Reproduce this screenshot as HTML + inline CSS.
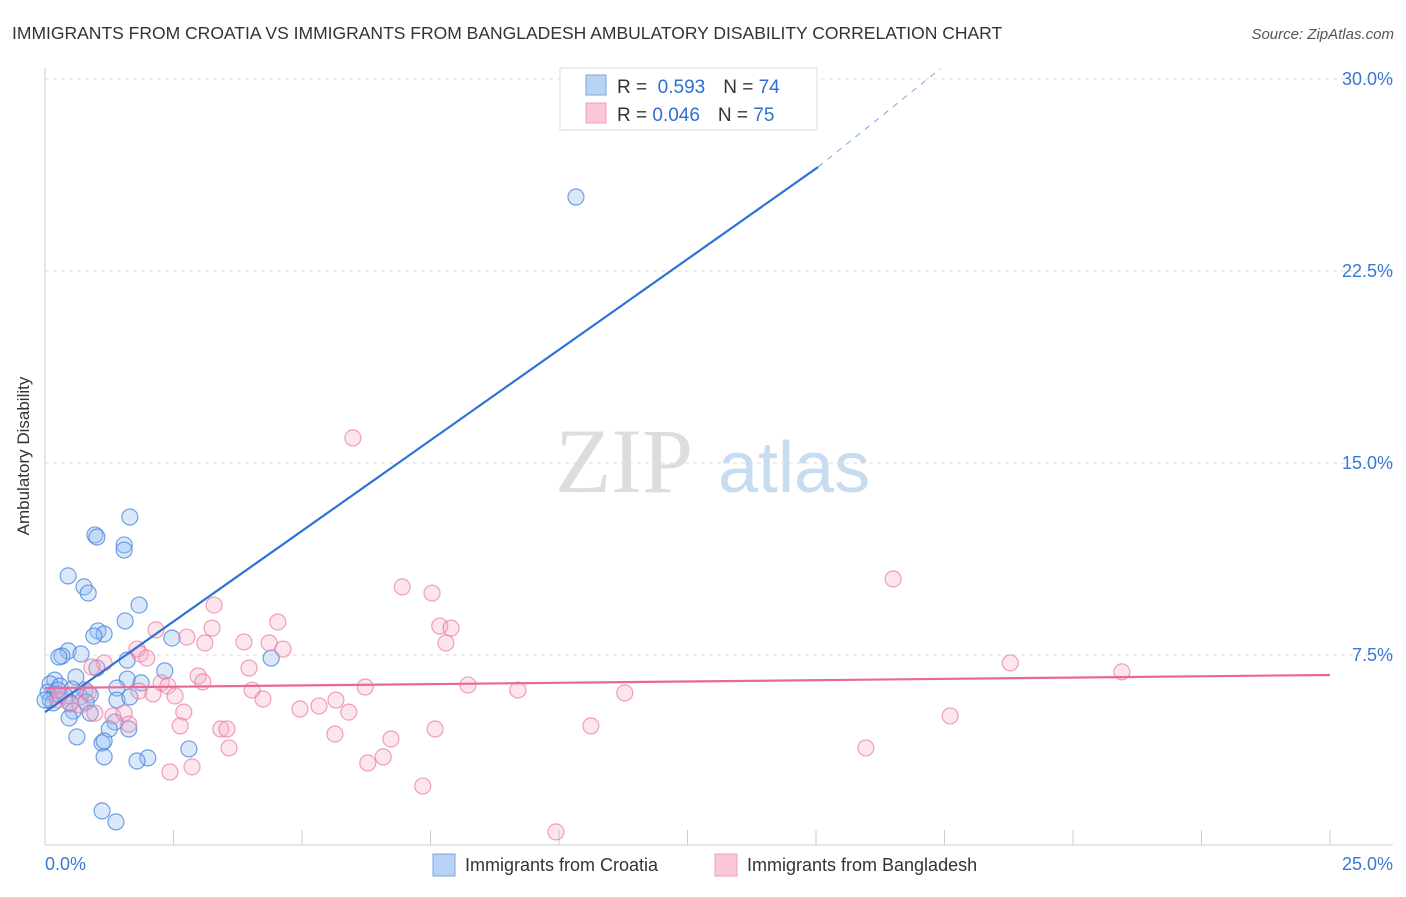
<!DOCTYPE html>
<html><head><meta charset="utf-8"><style>
body{margin:0;background:#fff;font-family:"Liberation Sans",sans-serif}
</style></head><body>
<svg width="1406" height="892" xmlns="http://www.w3.org/2000/svg">
<text x="12" y="39" font-size="17.5" fill="#333">IMMIGRANTS FROM CROATIA VS IMMIGRANTS FROM BANGLADESH AMBULATORY DISABILITY CORRELATION CHART</text>
<text x="1394" y="39" font-size="15" fill="#555" font-style="italic" text-anchor="end">Source: ZipAtlas.com</text>
<text x="29" y="456" font-size="17" fill="#333" text-anchor="middle" transform="rotate(-90 29 456)">Ambulatory Disability</text>
<g><text x="555" y="492" font-size="92" fill="#ddd" font-family="Liberation Serif,serif">ZIP</text><text x="718" y="492" font-size="72" fill="#c8dcf0">atlas</text></g>
<g id="grid"></g><g id="axes"></g><g id="marks"></g>
<g>
<rect x="560" y="68" width="257" height="62" fill="#fff" stroke="#ddd"/>
<rect x="586" y="75" width="20" height="20" fill="#b8d2f5" stroke="#7aa6e0"/>
<text x="617" y="93" font-size="19" fill="#333">R = <tspan fill="#2e6fd0">&#160;0.593</tspan><tspan dx="18">N = </tspan><tspan fill="#2e6fd0">74</tspan></text>
<rect x="586" y="103" width="20" height="20" fill="#f9c7d6" stroke="#eea0b8"/>
<text x="617" y="121" font-size="19" fill="#333">R = <tspan fill="#2e6fd0">0.046</tspan><tspan dx="18">N = </tspan><tspan fill="#2e6fd0">75</tspan></text>
</g>
<g>
<rect x="433" y="854" width="22" height="22" fill="#b8d2f5" stroke="#7aa6e0"/>
<text x="465" y="871" font-size="18" fill="#333">Immigrants from Croatia</text>
<rect x="715" y="854" width="22" height="22" fill="#f9c7d6" stroke="#eea0b8"/>
<text x="747" y="871" font-size="18" fill="#333">Immigrants from Bangladesh</text>
</g>
</svg>
<script>
const yTicks=[7.5,15,22.5,30];
const yTickLabels=["7.5%","15.0%","22.5%","30.0%"];
const xTicks=[0,2.5,5,7.5,10,12.5,15,17.5,20,22.5,25];
const blueX=[10.33,1.65,0.97,1.01,1.54,1.54,0.45,0.76,0.84,1.83,1.56,1.03,1.15,0.95,2.47,0.45,0.33,0.27,0.70,1.60,4.40,2.33,1.01,0.60,0.19,1.60,1.87,0.10,0.29,0.53,0.78,1.40,0.06,0.19,0.39,0.68,0.88,0.10,0.16,0.49,0.80,1.40,1.65,0.55,0.88,0.47,1.36,1.25,1.63,0.62,1.11,1.15,2.80,1.15,2.00,1.79,1.11,1.38,0,0.25];
const blueY=[25.39,12.89,12.19,12.11,11.80,11.60,10.59,10.16,9.92,9.45,8.83,8.44,8.32,8.24,8.16,7.66,7.46,7.42,7.54,7.30,7.38,6.88,6.99,6.64,6.52,6.56,6.41,6.37,6.29,6.17,6.13,6.21,6.05,5.98,5.90,5.86,5.94,5.74,5.63,5.63,5.66,5.74,5.86,5.31,5.23,5.04,4.88,4.61,4.61,4.30,4.06,4.14,3.83,3.52,3.48,3.36,1.41,0.98,5.74,6.13];
const pinkX=[5.99,16.50,6.95,7.53,3.29,4.53,7.68,7.90,2.16,3.25,2.76,3.11,3.87,4.36,4.63,7.80,1.79,1.85,1.98,18.78,20.95,1.15,0.91,3.97,2.98,3.07,2.26,2.39,8.23,6.23,9.20,11.28,4.03,1.83,2.10,2.53,0.84,4.24,5.66,5.33,4.96,5.91,2.70,0.25,0.49,0.97,1.32,1.54,1.63,2.63,17.61,10.62,7.59,3.42,3.54,5.64,6.73,3.58,15.97,6.58,6.28,2.86,2.43,7.35,9.94,0.68,0.29];
const pinkY=[15.98,10.47,10.16,9.92,9.45,8.79,8.63,8.55,8.48,8.55,8.20,7.97,8.01,7.97,7.73,7.97,7.73,7.54,7.38,7.19,6.84,7.19,7.03,6.99,6.68,6.45,6.41,6.29,6.33,6.25,6.13,6.02,6.13,6.09,5.98,5.90,6.02,5.78,5.74,5.51,5.39,5.27,5.27,5.74,5.59,5.23,5.12,5.23,4.80,4.73,5.12,4.73,4.61,4.61,4.61,4.41,4.22,3.87,3.87,3.52,3.28,3.13,2.93,2.38,0.59,5.55,5.94];
const blueLine=[[0,5.27],[15.04,26.56]];
const blueDash=[[15.04,26.56],[17.42,30.4]];
const pinkLine=[[0,6.21],[25,6.72]];
const NS="http://www.w3.org/2000/svg";
const sx=v=>45+v*1285/25, sy=v=>847-v*25.6;
function mk(t,a,p){const e=document.createElementNS(NS,t);for(const k in a)e.setAttribute(k,a[k]);p.appendChild(e);return e;}
const grid=document.getElementById('grid'),axes=document.getElementById('axes'),marks=document.getElementById('marks');
yTicks.forEach((v,i)=>{
 const l=mk('line',{x1:45,x2:1393,y1:sy(v),y2:sy(v),stroke:'#ddd','stroke-dasharray':'4,4'},grid);
 
 
 const t=mk('text',{x:1393,y:sy(v)+6,'font-size':18,fill:'#3a78d4','text-anchor':'end'},axes);
 t.textContent=yTickLabels[i];
 
 
});
const g0=mk('line',{x1:45,x2:1393,y1:79,y2:79,stroke:'#ddd','stroke-dasharray':'4,4'},grid);


const ya=mk('line',{x1:45,x2:45,y1:68,y2:845,stroke:'#ccc'},axes);


const xa=mk('line',{x1:45,x2:1393,y1:845,y2:845,stroke:'#ccc'},axes);


xTicks.forEach(v=>{const t=mk('line',{x1:sx(v),x2:sx(v),y1:845,y2:830,stroke:'#ccc'},axes);
 
 });
[[0,'0.0%','start',45],[25,'25.0%','end',1393]].forEach(a=>{const t=mk('text',{x:a[3],y:870,'font-size':18,fill:'#3a78d4','text-anchor':a[2]},axes);t.textContent=a[1];
 
 });
function pts(X,Y,fill,stroke,name){X.forEach((x,i)=>{const c=mk('circle',{cx:sx(x),cy:sy(Y[i]),r:8,fill:fill,stroke:stroke,'stroke-width':1.2},marks);
 
 });}
pts(blueX,blueY,'rgba(150,190,240,0.35)','rgba(70,130,220,0.75)','croatia-point');
pts(pinkX,pinkY,'rgba(245,170,195,0.3)','rgba(235,120,160,0.7)','bangladesh-point');
function ln(L,c,w,d,name){const e=mk('line',{x1:sx(L[0][0]),y1:sy(L[0][1]),x2:sx(L[1][0]),y2:sy(L[1][1]),stroke:c,'stroke-width':w},marks);if(d)e.setAttribute('stroke-dasharray',d);
 
 }
ln(blueLine,'#2e72d8',2.2,null,'croatia-trend-line');
ln(blueDash,'#7aa6e0',1,'6,6','croatia-trend-extension');
ln(pinkLine,'#e8689a',2.2,null,'bangladesh-trend-line');
</script>
</body></html>
